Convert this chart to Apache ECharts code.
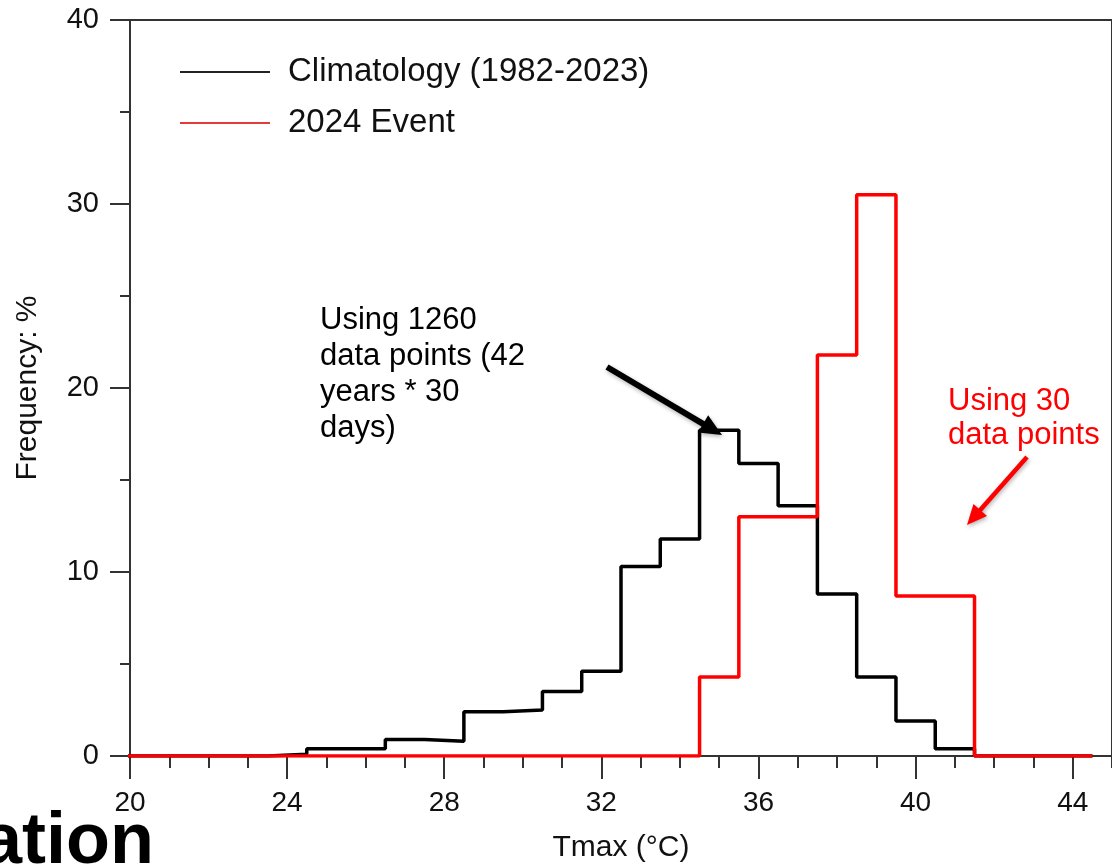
<!DOCTYPE html>
<html>
<head>
<meta charset="utf-8">
<script src="https://cdn.jsdelivr.net/npm/echarts@6/dist/echarts.min.js"></script>
<style>
html,body{margin:0;padding:0;background:#fff;}
#c{width:1112px;height:868px;}
</style>
</head>
<body>
<div id="c"></div>
<script>
// Bin centres (°C), each bin 1 °C wide
var binCenters = [20,21,22,23,24,25,26,27,28,29,30,31,32,33,34,35,36,37,38,39,40,41,42,43,44];
// Frequency (%) per bin
var climatology = [0,0,0,0,0.1,0.4,0.4,0.9,0.8,2.4,2.5,3.5,4.6,10.3,11.8,17.7,15.9,13.6,8.8,4.3,1.9,0.4,0,0,0];
var event2024  = [0,0,0,0,0,0,0,0,0,0,0,0,0,0,0,4.3,13.0,13.0,21.8,30.5,8.7,8.7,0,0,0];
var seriesNames = ['Climatology (1982-2023)', '2024 Event'];
var xTicks = [20,24,28,32,36,40,44];
var yTicks = [0,10,20,30,40];

function edges(vals){
  var pts = [];
  for (var i = 0; i < binCenters.length; i++) pts.push([binCenters[i] - 0.5, vals[i]]);
  var n = binCenters.length - 1;
  pts.push([binCenters[n] + 0.5, vals[n]]);
  return pts;
}

var FONT = '"Liberation Sans", Arial, Helvetica, sans-serif';
var chart = echarts.init(document.getElementById('c'), null, {renderer:'canvas'});

function arrow(x1,y1,x2,y2,w,hl,hw,color){
  var dx = x2-x1, dy = y2-y1, L = Math.sqrt(dx*dx+dy*dy);
  var ux = dx/L, uy = dy/L, px = -uy, py = ux;
  var bx = x2 - ux*hl, by = y2 - uy*hl;
  return [
    {type:'line', shape:{x1:x1,y1:y1,x2:bx+ux*2,y2:by+uy*2}, style:{stroke:color,lineWidth:w,shadowBlur:4,shadowColor:'rgba(0,0,0,0.3)',shadowOffsetX:1,shadowOffsetY:2}, z:100},
    {type:'polygon', shape:{points:[[x2,y2],[bx+px*hw/2,by+py*hw/2],[bx-px*hw/2,by-py*hw/2]]}, style:{fill:color,shadowBlur:4,shadowColor:'rgba(0,0,0,0.3)',shadowOffsetX:1,shadowOffsetY:2}, z:100}
  ];
}

var graphics = [].concat(
  arrow(607,367,722,435,6,22,20,'#000'),
  arrow(1027,457,967,525,4.5,20,18,'#ff0000'),
  [
    {type:'text', left:320, top:302, z:100, style:{text:'Using 1260\ndata points (42\nyears * 30\ndays)', font:'31px '+FONT, lineHeight:36, fill:'#000'}},
    {type:'text', left:948, top:384, z:100, style:{text:'Using 30\ndata points', font:'31px '+FONT, lineHeight:34, fill:'#ff0000'}},
    {type:'text', x:154, y:843, z:100, style:{text:'ation', font:'bold 72px '+FONT, fill:'#000', align:'right', verticalAlign:'middle'}}
  ]
);

var option = {
  backgroundColor:'#fff',
  animation:false,
  grid:{left:130, top:20, width:984, height:738, show:true, borderColor:'#333', borderWidth:2, backgroundColor:'transparent'},
  legend:{
    show:true, orient:'vertical', left:180, top:54, padding:0, icon:'rect', itemWidth:90, itemHeight:2, itemGap:15,
    data:seriesNames,
    textStyle:{fontFamily:FONT, fontSize:33, lineHeight:36, color:'#111', padding:[0,0,0,13]}
  },
  xAxis:[
    {
      type:'value', min:20, max:45, interval:4, position:'bottom',
      name:'Tmax (°C)', nameLocation:'middle', nameGap:77,
      nameTextStyle:{fontFamily:FONT, fontSize:30, color:'#111'},
      axisLine:{show:true, onZero:false, lineStyle:{color:'#333', width:2}},
      axisTick:{show:true, inside:false, length:23, lineStyle:{color:'#333', width:2}},
      axisLabel:{show:true, margin:33, fontFamily:FONT, fontSize:28, color:'#111', showMaxLabel:false,
        formatter:function(v){ return xTicks.indexOf(v) >= 0 ? String(v) : ''; }},
      splitLine:{show:false}
    },
    {
      type:'value', min:20, max:45, interval:1, position:'bottom',
      axisLine:{show:false, onZero:false},
      axisTick:{show:true, inside:false, length:12, lineStyle:{color:'#333', width:2}},
      axisLabel:{show:false},
      splitLine:{show:false}
    }
  ],
  yAxis:{
    type:'value', min:0, max:40, interval:10,
    name:'Frequency: %', nameLocation:'middle', nameGap:87,
    nameTextStyle:{fontFamily:FONT, fontSize:30, color:'#111'},
    axisLine:{show:true, lineStyle:{color:'#333', width:2}},
    axisTick:{show:true, inside:false, length:20, lineStyle:{color:'#333', width:2}},
    minorTick:{show:true, splitNumber:2, length:10, lineStyle:{color:'#333', width:2}},
    axisLabel:{show:true, margin:31, fontFamily:FONT, fontSize:29, color:'#111',
      formatter:function(v){ return yTicks.indexOf(v) >= 0 ? String(v) : ''; }},
    splitLine:{show:false}
  },
  series:[
    {
      name:seriesNames[0], type:'line', step:'end', xAxisIndex:0, data:edges(climatology),
      showSymbol:false, symbol:'none', color:'#222', lineStyle:{color:'#000', width:3.5}, clip:true, z:3
    },
    {
      name:seriesNames[1], type:'line', step:'end', xAxisIndex:0, data:edges(event2024),
      showSymbol:false, symbol:'none', color:'#e43a3a', lineStyle:{color:'#ff0000', width:3.5}, clip:true, z:4
    }
  ],
  graphic:graphics
};
chart.setOption(option);
</script>
</body>
</html>
